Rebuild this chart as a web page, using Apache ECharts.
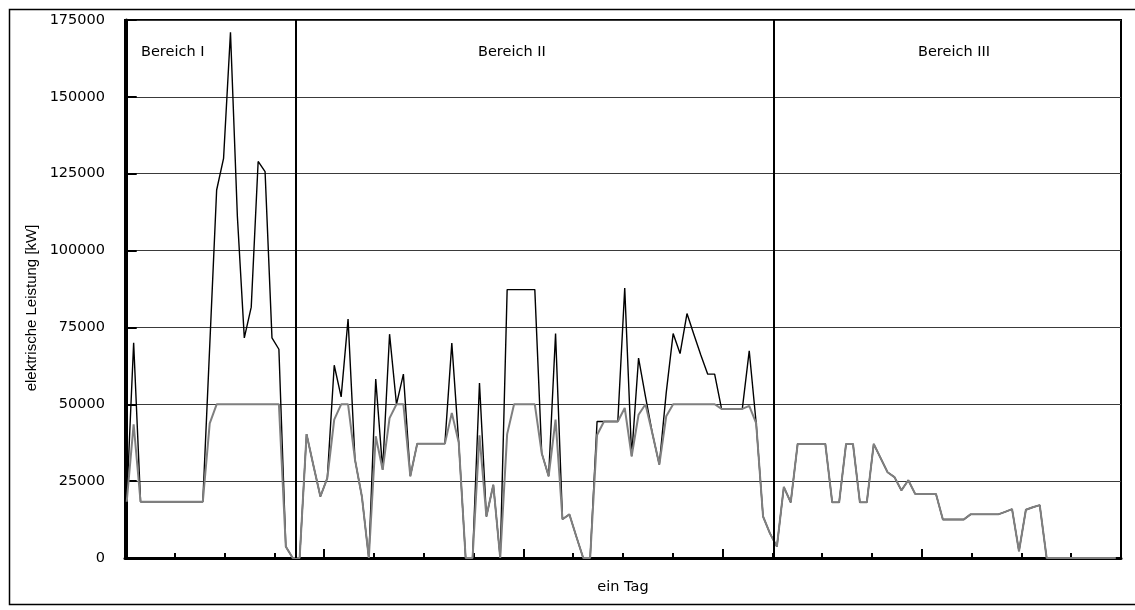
<!DOCTYPE html>
<html>
<head>
<meta charset="utf-8">
<script src="https://cdn.jsdelivr.net/npm/echarts@6/dist/echarts.min.js"></script>
<style>
  html, body { margin: 0; padding: 0; background: #fff; }
  #chart { width: 1135px; height: 610px; }
</style>
</head>
<body>
<div id="chart"></div>
<script>
// 10-minute steps over one day (index 0..143)
const grayValues = [
  18300,43500,18300,18300,18300,18300,18300,18300,18300,18300,18300,18300,
  43800,50000,50000,50000,50000,50000,50000,50000,50000,50000,50000,3700,
  0,0,40300,30000,20000,26000,45000,50000,50000,32000,20000,0,
  39600,28700,45500,50000,50000,26600,37200,37200,37200,37200,37200,47200,
  37600,0,0,39900,13500,23800,0,40300,50000,50000,50000,50000,
  34100,26600,45000,12600,14200,7000,0,0,40000,44400,44400,44400,
  48800,33100,46600,50000,40500,30400,46100,50000,50000,50000,50000,50000,
  50000,50000,48500,48500,48500,48500,49500,43900,13500,8000,3700,23100,
  18100,37100,37100,37100,37100,37100,18100,18100,37100,37100,18100,18100,
  37100,32500,27900,26300,22000,25300,20800,20800,20800,20800,12500,12500,
  12500,12500,14200,14200,14200,14200,14200,15000,15900,2200,15700,16500,
  17200,0,0,0,0,0,0,0,0,0,0,0
];
const blackValues = [
  18300,70000,18300,18300,18300,18300,18300,18300,18300,18300,18300,18300,
  69000,119700,130000,171000,111000,71600,81600,129000,125700,71600,67900,3700,
  0,0,40300,30000,20000,26000,62700,52400,77700,32000,20000,0,
  58200,28700,72800,50000,59800,26600,37200,37200,37200,37200,37200,69900,
  37600,0,0,56900,13500,23800,0,87300,87300,87300,87300,87300,
  34100,26600,73000,12600,14200,7000,0,0,44400,44400,44400,44400,
  87800,33100,65000,52500,40500,30400,53800,73000,66500,79500,72700,66000,
  59800,59800,48500,48500,48500,48500,67400,43900,13500,8000,3700,23100,
  18100,37100,37100,37100,37100,37100,18100,18100,37100,37100,18100,18100,
  37100,32500,27900,26300,22000,25300,20800,20800,20800,20800,12500,12500,
  12500,12500,14200,14200,14200,14200,14200,15000,15900,2200,15700,16500,
  17200,0,0,0,0,0,0,0,0,0,0,0
];
const regionNames = ['Bereich I', 'Bereich II', 'Bereich III'];
const regionBoundaries = [24.5, 93.5];
const yTicks = { min: 0, max: 175000, step: 25000 };
const xAxisTitle = 'ein Tag';
const yAxisTitle = 'elektrische Leistung [kW]';

const blackData = blackValues.map((v, i) => [i, v]);
const grayData = grayValues.map((v, i) => [i, v]);

const chart = echarts.init(document.getElementById('chart'), null, { renderer: 'canvas' });
const FONT = 'DejaVu Sans';

chart.setOption({
  animation: false,
  backgroundColor: '#ffffff',
  grid: {
    left: 125, right: 14, top: 20, bottom: 52,
    show: true, borderColor: '#000', borderWidth: 2, backgroundColor: 'transparent'
  },
  xAxis: {
    type: 'value',
    min: -0.25, max: 143.75, interval: 28.8,
    name: xAxisTitle, nameLocation: 'middle', nameGap: 22,
    nameTextStyle: { fontFamily: FONT, fontSize: 14.5, color: '#000' },
    axisLine: { show: true, lineStyle: { color: '#000', width: 3 } },
    axisTick: { show: true, inside: true, length: 9, lineStyle: { color: '#000', width: 2 } },
    minorTick: { show: true, splitNumber: 4, length: 5, lineStyle: { color: '#000', width: 2 } },
    axisLabel: { show: false },
    splitLine: { show: false }
  },
  yAxis: {
    type: 'value',
    min: yTicks.min, max: yTicks.max, interval: yTicks.step,
    axisLine: { show: true, lineStyle: { color: '#000', width: 3 } },
    axisTick: { show: true, inside: true, length: 10, lineStyle: { color: '#000', width: 2 } },
    axisLabel: { fontFamily: FONT, fontSize: 14.5, color: '#000', margin: 20,
                 formatter: v => String(v) },
    splitLine: { show: true, lineStyle: { color: '#3a3a3a', width: 1 } }
  },
  series: [
    {
      type: 'line', data: blackData, symbol: 'none', smooth: false,
      lineStyle: { color: '#000', width: 1.4 }, z: 2
    },
    {
      type: 'line', data: grayData, symbol: 'none', smooth: false,
      lineStyle: { color: '#7f7f7f', width: 2 }, z: 3,
      markLine: {
        silent: true, symbol: ['none', 'none'], label: { show: false },
        lineStyle: { color: '#000', width: 2, type: 'solid' },
        data: regionBoundaries.map(b => ({ xAxis: b }))
      }
    }
  ],
  graphic: [
    { type: 'rect', shape: { x: 9.5, y: 9.5, width: 1140, height: 595 },
      style: { fill: 'none', stroke: '#000', lineWidth: 1.5 }, silent: true },
    { type: 'text', left: 141, top: 45, style: { text: regionNames[0], font: '14.5px "DejaVu Sans"', fill: '#000' } },
    { type: 'text', left: 478, top: 45, style: { text: regionNames[1], font: '14.5px "DejaVu Sans"', fill: '#000' } },
    { type: 'text', left: 918, top: 45, style: { text: regionNames[2], font: '14.5px "DejaVu Sans"', fill: '#000' } },
    { type: 'text', x: 32, y: 308, rotation: Math.PI / 2,
      style: { text: yAxisTitle, font: '15px "Liberation Sans"', fill: '#000',
               align: 'center', verticalAlign: 'middle' } }
  ]
});
</script>
</body>
</html>
